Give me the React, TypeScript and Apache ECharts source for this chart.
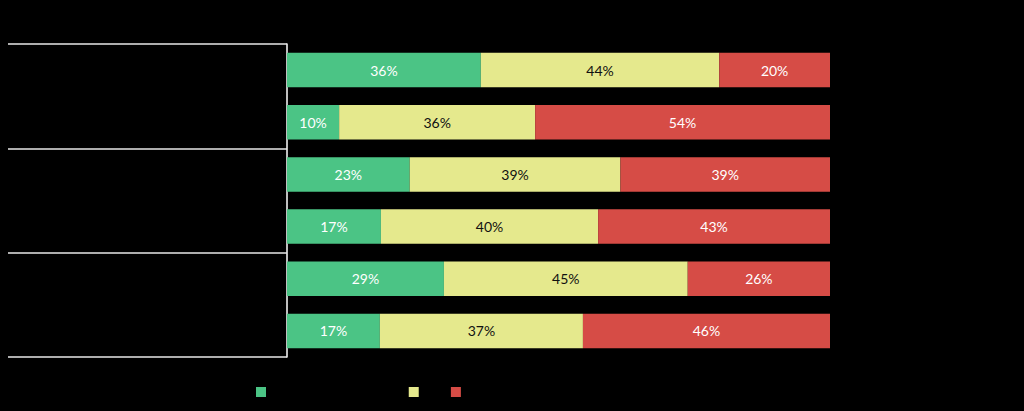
import React, { useEffect, useRef } from "react";
import * as echarts from "echarts";

const categories = ["Row 1", "Row 2", "Row 3", "Row 4", "Row 5", "Row 6"];
const groups = ["Group 1", "Group 2", "Group 3"];
const seriesNames = ["Better than we expected", "Fair", "Worse"];
const greenValues = [35.7, 9.6, 22.6, 17.3, 28.9, 17.1];
const yellowValues = [43.9, 36.1, 38.8, 40.0, 44.9, 37.4];
const redValues = [20.4, 54.3, 38.6, 42.7, 26.2, 45.5];
const colors = ["#4bc485", "#e5e98d", "#d64c46"];
const labelColors = ["#ffffff", "#111111", "#ffffff"];

export default function App() {
  const ref = useRef<HTMLDivElement>(null);
  useEffect(() => {
    document.body.style.margin = "0";
    document.body.style.background = "#000";
    const chart = echarts.init(ref.current!, null, { renderer: "svg" });
    const data = [greenValues, yellowValues, redValues];
    chart.setOption({
      animation: false,
      backgroundColor: "#000000",
      textStyle: { fontFamily: "Lato" },
      grid: { left: 287, right: 194, top: 44, bottom: 54 },
      legend: {
        left: 251,
        top: 381,
        itemWidth: 10,
        itemHeight: 10,
        itemGap: 8,
        icon: "rect",
        textStyle: { color: "#000000", fontSize: 12 },
        data: seriesNames,
      },
      xAxis: {
        type: "value",
        min: 0,
        max: 100,
        show: false,
      },
      yAxis: [
        {
          type: "category",
          data: categories,
          inverse: true,
          axisLine: { show: true, lineStyle: { color: "#ffffff", width: 1.5 } },
          axisTick: { show: false },
          axisLabel: { show: false },
        },
        {
          type: "category",
          data: groups,
          inverse: true,
          position: "left",
          axisLine: { show: false },
          axisTick: { show: true, length: 279, lineStyle: { color: "#e8e8e8", width: 1.5 } },
          axisLabel: { show: false },
        },
      ],
      series: seriesNames.map((name, i) => ({
        name,
        type: "bar",
        stack: "total",
        yAxisIndex: 0,
        barWidth: "66%",
        data: data[i],
        itemStyle: { color: colors[i] },
        label: {
          show: true,
          position: "inside",
          color: labelColors[i],
          fontSize: 14,
          fontFamily: "Lato",
          formatter: (p: any) => Math.round(p.value) + "%",
        },
      })),
    });
    return () => chart.dispose();
  }, []);
  return <div ref={ref} style={{ width: 1024, height: 411 }} />;
}
